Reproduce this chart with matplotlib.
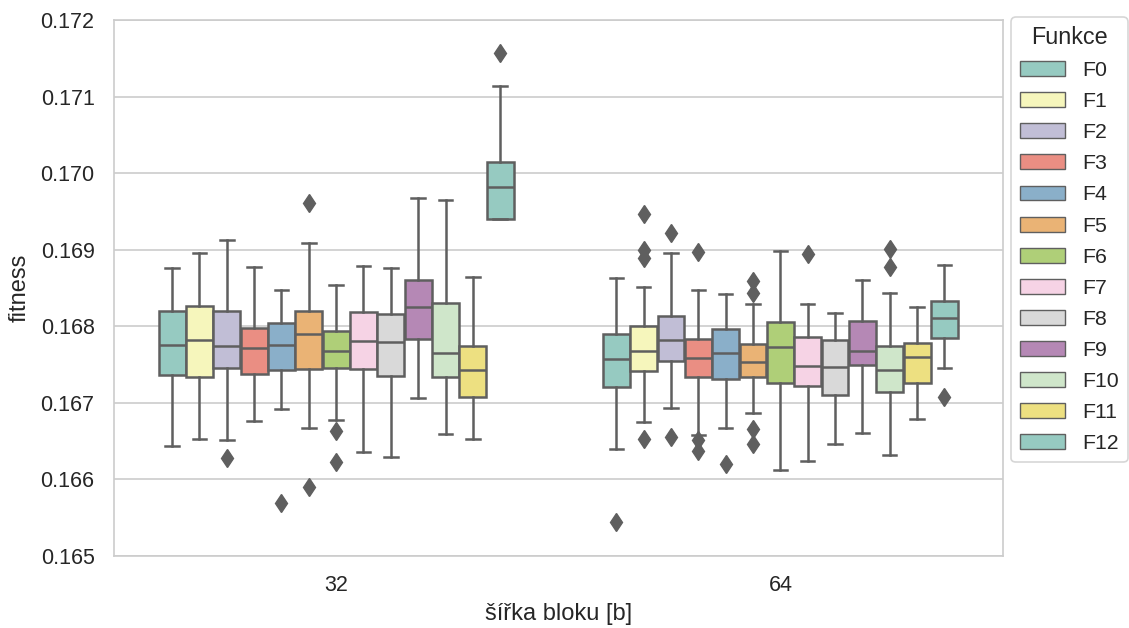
import colorsys
import matplotlib
matplotlib.use("Agg")
import matplotlib.pyplot as plt
import matplotlib.colors as mcolors
from matplotlib.patches import Patch

plt.rcParams['font.family'] = ['Liberation Sans', 'DejaVu Sans']

groups = ["32", "64"]
functions = ["F0", "F1", "F2", "F3", "F4", "F5", "F6", "F7", "F8", "F9", "F10", "F11", "F12"]

# box statistics per group (order F0..F12)
lo_32  = [.166440, .166532, .166519, .166763, .166916, .166667, .166776, .166354, .166293, .167068, .166593, .166524, .169401]
q1_32  = [.167364, .167342, .167451, .167377, .167429, .167442, .167459, .167438, .167351, .167830, .167334, .167081, .169401]
med_32 = [.167756, .167817, .167746, .167712, .167760, .167895, .167681, .167804, .167790, .168256, .167655, .167429, .169819]
q3_32  = [.168200, .168269, .168200, .167974, .168039, .168196, .167934, .168187, .168160, .168605, .168304, .167747, .170141]
hi_32  = [.168757, .168953, .169127, .168778, .168470, .169088, .168535, .168787, .168757, .169671, .169645, .168648, .171134]
fl_32  = [[], [], [.166276], [], [.165696], [.165905, .169610], [.166632, .166232], [], [], [], [], [], [.171565]]

lo_64  = [.166401, .166754, .166929, .166580, .166672, .166872, .166123, .166245, .166463, .166610, .166319, .166793, .167451]
q1_64  = [.167203, .167416, .167543, .167334, .167316, .167338, .167263, .167220, .167103, .167490, .167146, .167255, .167847]
med_64 = [.167577, .167677, .167825, .167582, .167651, .167534, .167733, .167477, .167464, .167677, .167429, .167599, .168108]
q3_64  = [.167899, .168004, .168138, .167838, .167960, .167765, .168052, .167864, .167821, .168073, .167747, .167778, .168326]
hi_64  = [.168635, .168517, .168957, .168474, .168422, .168287, .168987, .168287, .168169, .168605, .168431, .168256, .168804]
fl_64  = [[.165440], [.169466, .168996, .168896, .166532], [.169222, .166550],
          [.168970, .166515, .166371], [.166197], [.168596, .168431, .166655, .166463],
          [], [.168944], [], [], [.169005, .168770], [], [.167073]]

yticks = [0.165, 0.166, 0.167, 0.168, 0.169, 0.170, 0.171, 0.172]

set3 = ["#8dd3c7", "#ffffb3", "#bebada", "#fb8072", "#80b1d3", "#fdb462",
        "#b3de69", "#fccde5", "#d9d9d9", "#bc80bd", "#ccebc5", "#ffed6f"]


def desat(c, prop=0.75):
    r, g, b = mcolors.to_rgb(c)
    h, l, s = colorsys.rgb_to_hls(r, g, b)
    return colorsys.hls_to_rgb(h, l, s * prop)


colors = [desat(set3[i % len(set3)]) for i in range(len(functions))]
gray = "#5f5f5f"

fig = plt.figure(figsize=(11.29, 6.28), dpi=100)
ax = fig.add_axes([0.101, 0.1146, 0.787, 0.8535])

n = len(functions)
each = 0.8 / n
offsets = [-0.4 + each / 2 + i * each for i in range(n)]

all_stats = [(lo_32, q1_32, med_32, q3_32, hi_32, fl_32),
             (lo_64, q1_64, med_64, q3_64, hi_64, fl_64)]

lw = 1.8
for gi, (lo, q1, med, q3, hi, fl) in enumerate(all_stats):
    stats = []
    for i in range(n):
        stats.append(dict(whislo=lo[i], q1=q1[i], med=med[i], q3=q3[i],
                          whishi=hi[i], fliers=fl[i]))
    pos = [gi + o for o in offsets]
    bp = ax.bxp(stats, positions=pos, widths=each * 0.98, patch_artist=True,
                boxprops=dict(edgecolor=gray, linewidth=lw),
                medianprops=dict(color=gray, linewidth=lw),
                whiskerprops=dict(color=gray, linewidth=lw),
                capprops=dict(color=gray, linewidth=lw),
                flierprops=dict(marker='d', markerfacecolor=gray, markeredgecolor=gray,
                                markersize=9.5, linestyle='none'),
                manage_ticks=False, zorder=2)
    for patch, c in zip(bp['boxes'], colors):
        patch.set_facecolor(c)

ax.set_xlim(-0.5, 1.5)
ax.set_ylim(0.165, 0.172)
ax.set_xticks([0, 1])
ax.set_xticklabels(groups)
ax.set_yticks(yticks)
ax.set_yticklabels([f"{v:.3f}" for v in yticks])
ax.tick_params(axis='both', length=0, labelsize=15.5, labelcolor='#262626')
ax.tick_params(axis='y', pad=14)
ax.tick_params(axis='x', pad=14)
ax.yaxis.grid(True, color='#cccccc', linewidth=1.2, zorder=0)
ax.xaxis.grid(False)
ax.set_axisbelow(True)
for sp in ax.spines.values():
    sp.set_color('#cccccc')
    sp.set_linewidth(1.2)

ax.set_xlabel("šířka bloku [b]", fontsize=17, color='#262626', labelpad=5)
ax.set_ylabel("fitness", fontsize=17, color='#262626', labelpad=7)

handles = [Patch(facecolor=c, edgecolor=gray, linewidth=1.0) for c in colors]
leg = ax.legend(handles, functions, title="Funkce", loc='upper left',
                bbox_to_anchor=(1.01, 1.005), borderaxespad=0, fontsize=15.3,
                title_fontsize=16.8, handlelength=2.1, handleheight=0.7,
                handletextpad=0.85, labelspacing=0.57, borderpad=0.4,
                frameon=True, fancybox=True)
leg.get_frame().set_edgecolor('#cccccc')
leg.get_frame().set_linewidth(1.2)
for t in leg.get_texts():
    t.set_color('#262626')
leg.get_title().set_color('#262626')

fig.savefig("out.png", dpi=100)
